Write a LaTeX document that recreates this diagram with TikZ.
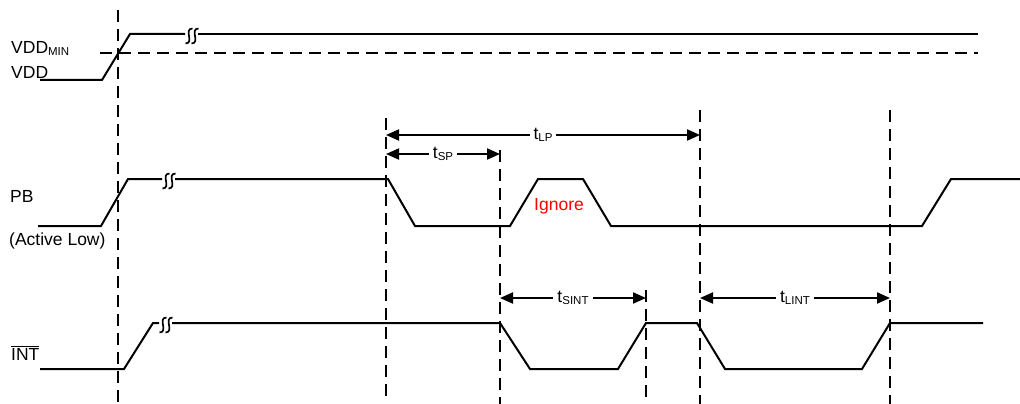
\documentclass[tikz,border=0pt]{standalone}
\usepackage{fontspec}
\setmainfont{Liberation Sans}
\usetikzlibrary{arrows.meta}
\newcommand\sbs[1]{\raisebox{-1.5pt}{\fontsize{11.5}{12}\selectfont #1}}
\newcommand\brkS[2]{%
  \draw[brkline] (#1+3.5,#2-7.5) .. controls (#1-6,#2-7) and (#1+6,#2+7) .. (#1-3.5,#2+7.5);}
\begin{document}
\begin{tikzpicture}[x=1pt,y=-1pt,
  sig/.style={line width=2pt, line join=miter},
  brkline/.style={line width=1.7pt},
  guide/.style={line width=2pt, dash pattern=on 12pt off 7pt},
  dim/.style={line width=2pt, {Triangle[length=13pt,width=11pt]}-{Triangle[length=13pt,width=11pt]}},
  lbl/.style={font=\fontsize{17.5}{19}\selectfont, inner sep=0pt, anchor=base west},
  dimlbl/.style={font=\fontsize{17.5}{19}\selectfont, fill=white, inner xsep=4pt, inner ysep=2pt},
  ]
\useasboundingbox (0,0) rectangle (1020,404);

% guide coordinates
\coordinate (g0t) at (118,10);  \coordinate (g0b) at (118,404);
\coordinate (g1t) at (386,118); \coordinate (g1b) at (386,396);
\coordinate (g2t) at (500,150); \coordinate (g2b) at (500,404);
\coordinate (g3t) at (646,290); \coordinate (g3b) at (646,404);
\coordinate (g4t) at (700,110); \coordinate (g4b) at (700,404);
\coordinate (g5t) at (890,110); \coordinate (g5b) at (890,404);
\foreach \i in {0,...,5} \draw[guide] (g\i t) -- (g\i b);

% VDD_MIN level
\coordinate (vm0) at (100,53); \coordinate (vm1) at (978,53);
\draw[guide] (vm0) -- (vm1);

% VDD
\draw[sig] (40,80) -- (102,80) -- (130,34) -- (185,34);
\brkS{189}{36}\brkS{195}{36}
\draw[sig] (198,34) -- (978,34);

% PB
\draw[sig] (38,226) -- (101,226) -- (128,179) -- (162,179);
\brkS{166}{181}\brkS{172}{181}
\draw[sig] (175,179) -- (388,179) -- (415,226) -- (510,226) -- (538,179) -- (583,179)
  -- (611,226) -- (922,226) -- (951,179) -- (1020,179);

% INT
\draw[sig] (40,369) -- (124,369) -- (153,323) -- (159,323);
\brkS{163}{325}\brkS{169}{325}
\draw[sig] (172,323) -- (500,323) -- (530,369) -- (618,369) -- (646,323) -- (697,323)
  -- (725,369) -- (862,369) -- (890,323) -- (983,323);

% dimension arrows
\coordinate (lp0) at (386,135); \coordinate (lp1) at (700,135);
\coordinate (sp0) at (386,154); \coordinate (sp1) at (500,154);
\coordinate (si0) at (500,298); \coordinate (si1) at (646,298);
\coordinate (li0) at (700,298); \coordinate (li1) at (890,298);
\draw[dim] (lp0) -- node[dimlbl] (tlp) {t\sbs{LP}} (lp1);
\draw[dim] (sp0) -- node[dimlbl] (tsp) {t\sbs{SP}} (sp1);
\draw[dim] (si0) -- node[dimlbl] (tsi) {t\sbs{SINT}} (si1);
\draw[dim] (li0) -- node[dimlbl] (tli) {t\sbs{LINT}} (li1);

% labels
\node[lbl] (lvmin) at (11,54) {VDD\sbs{MIN}};
\node[lbl] (lvdd) at (11,78) {VDD};
\node[lbl] (lpb) at (10,202) {PB};
\node[lbl] (lact) at (9,245) {(Active Low)};
\node[lbl] (lint) at (11,360) {$\overline{\hbox{INT}}$};
\node[lbl, text=red] (lign) at (534,210) {Ignore};
\end{tikzpicture}
\end{document}
